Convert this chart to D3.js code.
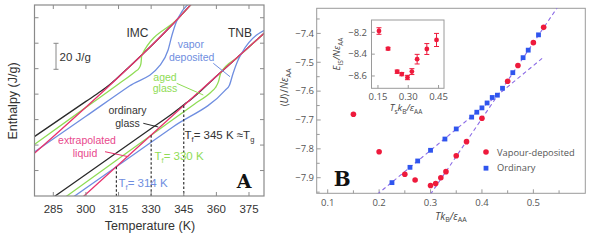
<!DOCTYPE html>
<html><head><meta charset="utf-8">
<script src="https://cdn.jsdelivr.net/npm/d3@7"></script>
<style>html,body{margin:0;padding:0;background:#fff;}svg{display:block;}</style>
</head><body>
<svg id="c" width="593" height="243"></svg>
<script>
// ---------- Panel A data ----------
const tempTicks = [285, 300, 315, 330, 345, 360, 375];
const enthalpyTicks = [20, 40, 60, 80, 100, 120, 140];
// IMC curves [T (K), H (J/g, arbitrary offset)]
const imcLiquid   = [[275,31.5],[311,87],[325.7,110.7],[342.4,139.4],[350.2,154]];
const imcOrdinary = [[275,45.1],[300,74.3],[307,82.4],[311,87.6],[316,95.2],[325.7,110.7],[342.4,139.4],[350.2,154]];
const imcAged     = [[275,38.9],[300,69.6],[315,88],[322.6,97.6],[324.5,100.5],[325.3,104],[325.7,110.7],[342.4,139.4],[350.2,154]];
const imcVapor    = [[275,33],[300,62.6],[320,86.4],[334,102.5],[337.8,114.7],[339.6,126.4],[341.4,135.9],[342.8,141],[350.2,154]];
// TNB curves
const tnbLiquid   = [[296,-4.8],[345,71.0],[385,132.5]];
const tnbOrdinary = [[283,-3.4],[330,53],[340,65],[343,68.9],[346,73],[348,75.5],[360,94.1],[385,132.5]];
const tnbAged     = [[289,-2.7],[330,47.7],[350,72.3],[357.5,81.5],[359.5,85],[361,90],[362,96.5],[370,109.2],[385,132.5]];
const tnbVapor    = [[292,-3.4],[314,23],[340,54.2],[364,83],[366,87],[367.7,96.4],[370,106.8],[371.7,112.3],[385,132.5]];
// fictive temperatures and liquid enthalpy there
const tfTemps = [314, 330, 345];
const tfH     = [23, 47.7, 71.1];

// ---------- Panel B data ----------
const bXTicks = [0.1, 0.2, 0.3, 0.4, 0.5];
const bYTicks = [-7.9, -7.8, -7.7, -7.6, -7.5, -7.4];
const vapX = [0.15,0.20,0.25,0.27,0.30,0.31,0.32,0.33,0.35,0.37,0.40,0.45,0.47,0.50,0.52];
const vapY = [-7.68,-7.81,-7.888,-7.908,-7.927,-7.92,-7.90,-7.879,-7.824,-7.775,-7.694,-7.566,-7.511,-7.432,-7.379];
const ordX = [0.225,0.26,0.275,0.30,0.328,0.35,0.38,0.39,0.40,0.41,0.42,0.43,0.44,0.46,0.48,0.49,0.51];
const ordY = [-7.917,-7.864,-7.842,-7.805,-7.766,-7.731,-7.69,-7.673,-7.658,-7.641,-7.622,-7.614,-7.59,-7.536,-7.484,-7.458,-7.405];
// dashed linear fits [x0,y0,x1,y1]
const fitGlass  = [0.196,-7.958,0.517,-7.4866];
const fitLiquid = [0.2997,-7.958,0.5475,-7.308];
// inset
const insetXTicks = [0.15, 0.30, 0.45];
const insetYTicks = [-8.6, -8.4, -8.2];
const insetX   = [0.155,0.20,0.245,0.268,0.296,0.318,0.344,0.392,0.44];
const insetY   = [-8.188,-8.35,-8.561,-8.583,-8.614,-8.56,-8.446,-8.353,-8.27];
const insetErr = [0.03,0.012,0.015,0.015,0.02,0.027,0.044,0.05,0.06];

const svg = d3.select("#c");

// ================= Panel A =================
const fA = "'Liberation Sans', Arial, sans-serif";
const ax = d3.scaleLinear().domain([276.35, 381.9]).range([34.5, 264]);
const ay = d3.scaleLinear().domain([0, 150]).range([196, 5]);
const gA = svg.append("g");
gA.append("clipPath").attr("id","clipA").append("rect")
  .attr("x",ax.range()[0]).attr("y",ay.range()[1])
  .attr("width",ax.range()[1]-ax.range()[0]).attr("height",ay.range()[0]-ay.range()[1]);

const lineA = d3.line().x(d=>ax(d[0])).y(d=>ay(d[1])).curve(d3.curveMonotoneX);
const cBlack="#2a2a2a", cGreen="#8fdc55", cBlue="#6f8ee0", cMag="#e8336e";
const curves = gA.append("g").attr("clip-path","url(#clipA)");
[[imcOrdinary,cBlack],[imcAged,cGreen],[imcVapor,cBlue],[tnbOrdinary,cBlack],[tnbAged,cGreen],[tnbVapor,cBlue],[imcLiquid,cMag],[tnbLiquid,cMag]]
  .forEach(([d,c])=>curves.append("path").attr("d",lineA(d)).attr("fill","none").attr("stroke",c).attr("stroke-width",1.3));

// dashed Tf lines
tfTemps.forEach((t,i)=>{
  gA.append("line").attr("x1",ax(t)).attr("x2",ax(t)).attr("y1",ay(tfH[i])).attr("y2",ay(0))
    .attr("stroke","#222").attr("stroke-width",1.1).attr("stroke-dasharray","2.5,2");
});

// frame + ticks
gA.append("rect").attr("x",34.5).attr("y",5).attr("width",229.5).attr("height",191)
  .attr("fill","none").attr("stroke","#8a8a8a").attr("stroke-width",1.2);
const tkA = gA.append("g").attr("stroke","#8a8a8a").attr("stroke-width",1);
tempTicks.forEach(t=>{
  tkA.append("line").attr("x1",ax(t)).attr("x2",ax(t)).attr("y1",196).attr("y2",192);
  tkA.append("line").attr("x1",ax(t)).attr("x2",ax(t)).attr("y1",5).attr("y2",9);
});
enthalpyTicks.forEach(h=>{
  tkA.append("line").attr("x1",34.5).attr("x2",38.5).attr("y1",ay(h)).attr("y2",ay(h));
  tkA.append("line").attr("x1",264).attr("x2",260).attr("y1",ay(h)).attr("y2",ay(h));
});
gA.selectAll("text.xt").data(tempTicks).enter().append("text")
  .attr("x",d=>ax(d)).attr("y",213).attr("text-anchor","middle")
  .attr("font-family",fA).attr("font-size",11.5).attr("fill","#333").text(d=>d);
gA.append("text").attr("x",150).attr("y",229.5).attr("text-anchor","middle")
  .attr("font-family",fA).attr("font-size",12.5).attr("fill","#333").text("Temperature (K)");
gA.append("text").attr("transform","translate(17,101) rotate(-90)").attr("text-anchor","middle")
  .attr("font-family",fA).attr("font-size",12.5).attr("fill","#333").text("Enthalpy (J/g)");

// scale bar 20 J/g
const sbx = 56, sbTop = ay(120)-25.5+25.5;
gA.append("line").attr("x1",sbx).attr("x2",sbx).attr("y1",43.3).attr("y2",69.3).attr("stroke","#888").attr("stroke-width",1);
gA.append("line").attr("x1",sbx-2.5).attr("x2",sbx+2.5).attr("y1",43.3).attr("y2",43.3).attr("stroke","#888");
gA.append("line").attr("x1",sbx-2.5).attr("x2",sbx+2.5).attr("y1",69.3).attr("y2",69.3).attr("stroke","#888");
gA.append("text").attr("x",59.5).attr("y",61).attr("font-family",fA).attr("font-size",11.5).attr("fill","#333").text("20 J/g");

function txt(g,x,y,s,c,size,anchor){
  return g.append("text").attr("x",x).attr("y",y).attr("text-anchor",anchor||"middle")
    .attr("font-family",fA).attr("font-size",size).attr("fill",c).text(s);
}
txt(gA,137.5,36.5,"IMC","#333",12);
txt(gA,240,36.5,"TNB","#333",12);
txt(gA,190.8,47.5,"vapor",cBlue,10.5);
txt(gA,191.7,61,"deposited",cBlue,10.5);
txt(gA,165,81,"aged",cGreen,10.5);
txt(gA,165,92,"glass",cGreen,10.5);
txt(gA,127.5,113.5,"ordinary","#333",10.5);
txt(gA,127.5,127.3,"glass","#333",10.5);
txt(gA,87,144,"extrapolated","#e8488c",10.5);
txt(gA,85,157,"liquid","#e8488c",10.5);
const ptr=(x1,y1,x2,y2,c)=>gA.append("line").attr("x1",x1).attr("y1",y1).attr("x2",x2).attr("y2",y2).attr("stroke",c).attr("stroke-width",1);
ptr(213.3,63.3,230,76.7,cBlue);
ptr(176.7,83.3,203.3,95,cGreen);
ptr(143.3,123.3,158.3,127,cBlack);
ptr(105,151.7,128.3,156.7,"#e8336e");

function tfLabel(x,y,val,c,tg){
  const t = gA.append("text").attr("x",x).attr("y",y).attr("font-family",fA).attr("font-size",11.5).attr("fill",c);
  t.append("tspan").text("T");
  t.append("tspan").attr("font-size",7.5).attr("dy",3).text("f");
  t.append("tspan").attr("dy",-3).text("= "+val+" K"+(tg?" ≈T":""));
  if(tg) t.append("tspan").attr("font-size",7.5).attr("dy",3).text("g");
}
tfLabel(184.5,138.5,345,"#333",true);
tfLabel(154.5,160,330,cGreen,false);
tfLabel(118.5,186.5,314,cBlue,false);
gA.append("text").attr("x",244).attr("y",188).attr("text-anchor","middle")
  .attr("font-family","'DejaVu Serif','Liberation Serif',serif").attr("font-weight","bold")
  .attr("font-size",19).attr("fill","#111").text("A");

// ================= Panel B =================
const fB = "'Open Sans','Noto Sans',sans-serif";
const bx = d3.scaleLinear().domain([0.0786, 0.601]).range([316.7, 585.3]);
const by = d3.scaleLinear().domain([-7.954, -7.313]).range([193.3, 8.3]);
const gB = svg.append("g");
gB.append("clipPath").attr("id","clipB").append("rect")
  .attr("x",316.7).attr("y",8.3).attr("width",268.6).attr("height",185);

gB.append("rect").attr("x",316.7).attr("y",8.3).attr("width",268.6).attr("height",185)
  .attr("fill","none").attr("stroke","#9a9a9a").attr("stroke-width",1);
const tkB = gB.append("g").attr("stroke","#9a9a9a").attr("stroke-width",1);
d3.range(0.1,0.6,0.05).forEach((v,i)=>{
  const len = (i%2===0)?4:3;
  tkB.append("line").attr("x1",bx(v)).attr("x2",bx(v)).attr("y1",193.3).attr("y2",193.3-len);
});
d3.range(-7.95,-7.32,0.05).forEach(v=>{
  const major = Math.abs(Math.round(v*10)-v*10)<0.01;
  tkB.append("line").attr("x1",316.7).attr("x2",316.7+(major?4:3)).attr("y1",by(v)).attr("y2",by(v));
});
const fmt1 = d3.format(".1f");
gB.selectAll("text.bx").data(bXTicks).enter().append("text")
  .attr("x",d=>bx(d)).attr("y",206).attr("text-anchor","middle")
  .attr("font-family",fB).attr("font-size",9.5).attr("fill","#555").text(d=>fmt1(d));
gB.selectAll("text.by").data(bYTicks).enter().append("text")
  .attr("x",314).attr("y",d=>by(d)+3.3).attr("text-anchor","end")
  .attr("font-family",fB).attr("font-size",9.5).attr("fill","#555").text(d=>fmt1(d));

// x title
{
  const t = gB.append("text").attr("x",451).attr("y",219.5).attr("text-anchor","middle")
    .attr("font-family",fB).attr("font-size",10).attr("fill","#444");
  t.append("tspan").attr("font-style","italic").text("Tk");
  t.append("tspan").attr("font-size",7).attr("dy",2.5).text("B");
  t.append("tspan").attr("dy",-2.5).attr("font-style","italic").text("/ε");
  t.append("tspan").attr("font-size",7).attr("dy",2.5).text("AA");
}
// y title
{
  const t = gB.append("text").attr("transform","translate(288,88) rotate(-90)").attr("text-anchor","middle")
    .attr("font-family",fB).attr("font-size",10).attr("fill","#444");
  t.append("tspan").text("⟨");
  t.append("tspan").attr("font-style","italic").text("U");
  t.append("tspan").text("⟩/");
  t.append("tspan").attr("font-style","italic").text("Nε");
  t.append("tspan").attr("font-size",7).attr("dy",2.5).text("AA");
}

// fits
const plotB = gB.append("g").attr("clip-path","url(#clipB)");
[fitGlass, fitLiquid].forEach(f=>{
  plotB.append("line").attr("x1",bx(f[0])).attr("y1",by(f[1])).attr("x2",bx(f[2])).attr("y2",by(f[3]))
    .attr("stroke","#8a6ae6").attr("stroke-width",1.1).attr("stroke-dasharray","4,3");
});
const cRed="#ee1a3c", cSq="#2f55ee";
ordX.forEach((x,i)=>plotB.append("rect").attr("x",bx(x)-2.4).attr("y",by(ordY[i])-2.4).attr("width",4.8).attr("height",4.8).attr("fill",cSq));
vapX.forEach((x,i)=>plotB.append("circle").attr("cx",bx(x)).attr("cy",by(vapY[i])).attr("r",2.8).attr("fill",cRed));

// legend
gB.append("circle").attr("cx",486).attr("cy",152).attr("r",2.8).attr("fill",cRed);
gB.append("rect").attr("x",483.6).attr("y",165.8).attr("width",4.8).attr("height",4.8).attr("fill",cSq);
gB.append("text").attr("x",497).attr("y",155.5).attr("font-family",fB).attr("font-size",9.3).attr("fill","#555").text("Vapour-deposited");
gB.append("text").attr("x",497).attr("y",171.3).attr("font-family",fB).attr("font-size",9.3).attr("fill","#555").text("Ordinary");

gB.append("text").attr("x",342.3).attr("y",186).attr("text-anchor","middle")
  .attr("font-family","'DejaVu Serif','Liberation Serif',serif").attr("font-weight","bold")
  .attr("font-size",20).attr("fill","#111").text("B");

// inset
const ix = d3.scaleLinear().domain([0.118, 0.477]).range([371.5, 444]);
const iy = d3.scaleLinear().domain([-8.713, -8.087]).range([88.3, 20]);
const gI = gB.append("g");
gI.append("rect").attr("x",371.5).attr("y",20).attr("width",72.5).attr("height",68.3)
  .attr("fill","#fff").attr("stroke","#9a9a9a").attr("stroke-width",1);
insetXTicks.forEach(v=>gI.append("line").attr("x1",ix(v)).attr("x2",ix(v)).attr("y1",88.3).attr("y2",85).attr("stroke","#9a9a9a"));
insetYTicks.forEach(v=>gI.append("line").attr("x1",371.5).attr("x2",374.8).attr("y1",iy(v)).attr("y2",iy(v)).attr("stroke","#9a9a9a"));
const fmt2 = d3.format(".2f");
gI.selectAll("text.ix").data(insetXTicks).enter().append("text")
  .attr("x",d=>ix(d)).attr("y",99.5).attr("text-anchor","middle")
  .attr("font-family",fB).attr("font-size",9.5).attr("fill","#555").text(d=>fmt2(d));
gI.selectAll("text.iy").data(insetYTicks).enter().append("text")
  .attr("x",367).attr("y",d=>iy(d)+3.3).attr("text-anchor","end")
  .attr("font-family",fB).attr("font-size",9.5).attr("fill","#555").text(d=>fmt1(d));
insetX.forEach((x,i)=>{
  const cx=ix(x), y0=iy(insetY[i]-insetErr[i]), y1=iy(insetY[i]+insetErr[i]);
  gI.append("line").attr("x1",cx).attr("x2",cx).attr("y1",y0).attr("y2",y1).attr("stroke",cRed).attr("stroke-width",1);
  gI.append("line").attr("x1",cx-2.5).attr("x2",cx+2.5).attr("y1",y0).attr("y2",y0).attr("stroke",cRed).attr("stroke-width",1);
  gI.append("line").attr("x1",cx-2.5).attr("x2",cx+2.5).attr("y1",y1).attr("y2",y1).attr("stroke",cRed).attr("stroke-width",1);
  gI.append("circle").attr("cx",cx).attr("cy",iy(insetY[i])).attr("r",2.4).attr("fill",cRed);
});
{
  const t = gI.append("text").attr("x",406).attr("y",111).attr("text-anchor","middle")
    .attr("font-family",fB).attr("font-size",9.5).attr("fill","#444");
  t.append("tspan").attr("font-style","italic").text("T");
  t.append("tspan").attr("font-size",6.5).attr("dy",2.5).text("s");
  t.append("tspan").attr("dy",-2.5).attr("font-style","italic").text("k");
  t.append("tspan").attr("font-size",6.5).attr("dy",2.5).text("B");
  t.append("tspan").attr("dy",-2.5).attr("font-style","italic").text("/ε");
  t.append("tspan").attr("font-size",6.5).attr("dy",2.5).text("AA");
}
{
  const t = gI.append("text").attr("transform","translate(340,54) rotate(-90)").attr("text-anchor","middle")
    .attr("font-family",fB).attr("font-size",9.5).attr("fill","#444");
  t.append("tspan").attr("font-style","italic").text("E");
  t.append("tspan").attr("font-size",6.5).attr("dy",2.5).text("IS");
  t.append("tspan").attr("dy",-2.5).attr("font-style","italic").text("/Nε");
  t.append("tspan").attr("font-size",6.5).attr("dy",2.5).text("AA");
}
</script>
</body></html>
